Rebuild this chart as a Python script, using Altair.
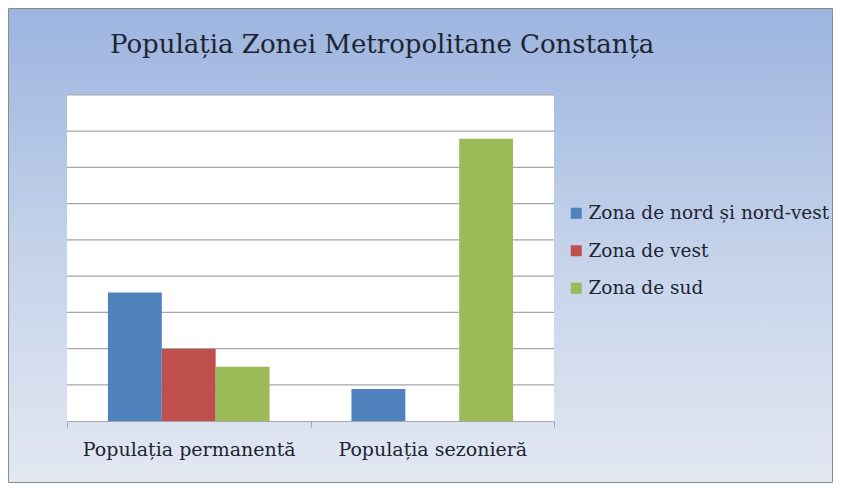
import altair as alt
import pandas as pd

# ---- data ----
title_text = "Populația Zonei Metropolitane Constanța"
categories = ["Populația permanentă", "Populația sezonieră"]
zones = ["Zona de nord și nord-vest", "Zona de vest", "Zona de sud"]
values_nord = [35500, 8800]
values_vest = [19900, 0]
values_sud = [15000, 77900]
grid_values = [10000, 20000, 30000, 40000, 50000, 60000, 70000, 80000, 90000]
zone_colors = ["#4f81bd", "#c0504d", "#9bbb59"]

rows = []
for i, c in enumerate(categories):
    for z, vals in zip(zones, [values_nord, values_vest, values_sud]):
        rows.append({"cat": c, "zone": z, "value": vals[i]})
df = pd.DataFrame(rows)
grid_df = pd.DataFrame({"v": grid_values})
one = pd.DataFrame({"a": [0]})

W, H = 487, 326
PL, PT, PR, PB = 59, 87, 279, 62
ydom = [0, 90000]
FONT = "DejaVu Serif"
TXT = "#1c2533"

bg = alt.Chart(one).mark_rect(
    color=alt.LinearGradient(
        gradient="linear", x1=0, y1=0, x2=0, y2=1,
        stops=[alt.GradientStop(color="#9cb4df", offset=0),
               alt.GradientStop(color="#c4d2ea", offset=0.5),
               alt.GradientStop(color="#e3e8f2", offset=1)]),
    stroke="#8c8c8c", strokeWidth=1,
).encode(x=alt.value(-PL + 0.5), x2=alt.value(W + PR - 0.5),
         y=alt.value(-PT + 0.5), y2=alt.value(H + PB - 0.5))

plot_bg = alt.Chart(one).mark_rect(color="white").encode(
    x=alt.value(0), x2=alt.value(W), y=alt.value(0), y2=alt.value(H))

grid = alt.Chart(grid_df).mark_rule(color="#a6a6a6", strokeWidth=1.2).encode(
    x=alt.value(0), x2=alt.value(W),
    y=alt.Y("v:Q", scale=alt.Scale(domain=ydom, nice=False, zero=True), axis=None))

title = alt.Chart(one).mark_text(
    align="left", baseline="alphabetic", font=FONT,
    fontSize=26, color=TXT,
).encode(x=alt.value(43), y=alt.value(-42), text=alt.value(title_text))

bars = alt.Chart(df).mark_bar().encode(
    x=alt.X("cat:N", sort=categories, title=None,
            scale=alt.Scale(paddingInner=0, paddingOuter=0),
            axis=alt.Axis(labelAngle=0, labelFont=FONT, labelFontSize=19,
                          labelColor=TXT, labelPadding=13, labelLimit=400,
                          tickBand="extent",
                          domainColor="#a6a6a6", tickColor="#a6a6a6", tickSize=6,
                          domainWidth=1.2, grid=False, zindex=2)),
    xOffset=alt.XOffset("zone:N", sort=zones,
                        scale=alt.Scale(paddingInner=0, paddingOuter=0.76)),
    y=alt.Y("value:Q", scale=alt.Scale(domain=ydom, nice=False, zero=True), axis=None),
    color=alt.Color("zone:N", sort=zones,
                    scale=alt.Scale(domain=zones, range=zone_colors),
                    legend=alt.Legend(title=None, orient="none", legendX=500, legendY=109,
                                      symbolType="square", symbolSize=121,
                                      symbolStrokeWidth=0, labelFont=FONT,
                                      labelFontSize=18.5, labelColor=TXT,
                                      labelOffset=3, rowPadding=18.5, labelLimit=400)),
)

chart = alt.layer(bg, plot_bg, grid, bars, title).properties(
    width=W, height=H,
    autosize=alt.AutoSizeParams(type="none"),
    padding={"left": PL, "top": PT, "right": PR, "bottom": PB},
).configure_view(stroke=None)

chart.save("out.html", embed_options={"renderer": "svg", "actions": False})
